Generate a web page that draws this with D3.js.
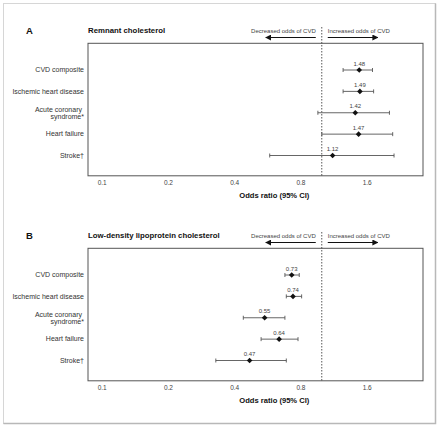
<!DOCTYPE html>
<html>
<head>
<meta charset="utf-8">
<script src="https://cdn.jsdelivr.net/npm/d3@7"></script>
<style>
  body { margin: 0; background: #fff; }
  svg { display: block; font-family: "Liberation Sans", Arial, sans-serif; }
</style>
</head>
<body>
<svg id="chart" width="440" height="428"></svg>
<script>
// outcome rows, same for both panels
const outcomes = [
  "CVD composite",
  "Ischemic heart disease",
  "Acute coronary syndrome*",
  "Heart failure",
  "Stroke\u2020"
];

// remnant cholesterol: odds ratio + 95% CI
const remnantOR = [1.48, 1.49, 1.42, 1.47, 1.12];
const remnantLow = [1.25, 1.25, 0.96, 1.0, 0.58];
const remnantHigh = [1.7, 1.72, 2.03, 2.1, 2.13];

// LDL cholesterol
const ldlOR = [0.73, 0.74, 0.55, 0.64, 0.47];
const ldlLow = [0.68, 0.69, 0.44, 0.53, 0.33];
const ldlHigh = [0.79, 0.81, 0.68, 0.78, 0.69];

const tickValues = [0.1, 0.2, 0.4, 0.8, 1.6];
const panels = [
  { letter: "A", title: "Remnant cholesterol", or: remnantOR, low: remnantLow, high: remnantHigh },
  { letter: "B", title: "Low-density lipoprotein cholesterol", or: ldlOR, low: ldlLow, high: ldlHigh }
];

const svg = d3.select("#chart");
const ink = "#2a2a2a";

// outer frame
svg.append("rect")
  .attr("x", 3.5).attr("y", 3.5).attr("width", 432).attr("height", 420)
  .attr("fill", "none").attr("stroke", "#d6d6d6");
svg.append("path")
  .attr("d", "M435.5,3.5V423.5H3.5")
  .attr("fill", "none").attr("stroke", "#b8b8b8").attr("stroke-width", 1.5);

svg.append("defs").append("marker")
  .attr("id", "arrow")
  .attr("viewBox", "0 0 10 10")
  .attr("refX", 9).attr("refY", 5)
  .attr("markerWidth", 6).attr("markerHeight", 6)
  .attr("markerUnits", "userSpaceOnUse")
  .attr("orient", "auto")
  .append("path").attr("d", "M0,0L10,5L0,10Z").attr("fill", "#111");

const box = { left: 88, right: 423, top: 43.3, height: 132.5 };
const x = d3.scaleLog().base(2).domain([0.1, 1.6]).range([101.7, 366.7]);
const y = d3.scalePoint().domain(outcomes).range([26.7, 112.2]);
const refX = x(1);

const diamond = d3.symbol().type(d3.symbolDiamond2 || d3.symbolSquare).size(20)();

function drawPanel(g, p) {
  // header
  g.append("text").attr("x", 26).attr("y", 34)
    .attr("font-size", 9.5).attr("font-weight", "bold").attr("fill", "#111")
    .text(p.letter);
  g.append("text").attr("x", box.left).attr("y", 33)
    .attr("font-size", 7.8).attr("font-weight", "bold").attr("fill", "#111")
    .text(p.title);

  g.append("text").attr("x", refX - 6).attr("y", 33)
    .attr("text-anchor", "end").attr("font-size", 6).attr("fill", "#444")
    .text("Decreased odds of CVD");
  g.append("text").attr("x", refX + 6).attr("y", 33)
    .attr("font-size", 6).attr("fill", "#444")
    .text("Increased odds of CVD");
  g.append("line")
    .attr("x1", refX - 6).attr("x2", refX - 56).attr("y1", 37.5).attr("y2", 37.5)
    .attr("stroke", "#111").attr("stroke-width", 1).attr("marker-end", "url(#arrow)");
  g.append("line")
    .attr("x1", refX + 6).attr("x2", refX + 56).attr("y1", 37.5).attr("y2", 37.5)
    .attr("stroke", "#111").attr("stroke-width", 1).attr("marker-end", "url(#arrow)");

  // plot box
  g.append("rect")
    .attr("x", box.left).attr("y", box.top)
    .attr("width", box.right - box.left).attr("height", box.height)
    .attr("fill", "none").attr("stroke", "#555").attr("stroke-width", 1);

  // reference line at OR = 1
  g.append("line")
    .attr("x1", refX).attr("x2", refX).attr("y1", 27).attr("y2", box.top + box.height)
    .attr("stroke", "#444").attr("stroke-width", 0.9).attr("stroke-dasharray", "1.5,1.5");

  // x axis labels (no tick marks)
  const axis = g.append("g")
    .attr("transform", `translate(0,${box.top + box.height})`)
    .call(d3.axisBottom(x).tickValues(tickValues).tickSize(0).tickPadding(5)
      .tickFormat(d3.format(".1f")));
  axis.select(".domain").remove();
  axis.selectAll("text")
    .attr("font-size", 6.5).attr("fill", "#444").attr("font-family", "Liberation Sans, Arial, sans-serif");

  g.append("text")
    .attr("x", (x(0.4) + x(0.8)) / 2 + 7).attr("y", box.top + box.height + 22)
    .attr("text-anchor", "middle").attr("font-size", 7.6).attr("font-weight", "bold").attr("fill", "#111")
    .text("Odds ratio (95% CI)");

  // row labels
  const rows = g.append("g").attr("transform", `translate(0,${box.top})`);
  outcomes.forEach((name, i) => {
    const t = rows.append("text")
      .attr("x", 84).attr("y", y(name) + 2.3)
      .attr("text-anchor", "end").attr("font-size", 7).attr("fill", "#333");
    if (name.startsWith("Acute")) {
      t.append("tspan").attr("x", 82).attr("dy", -3.5).text("Acute coronary");
      t.append("tspan").attr("x", 84).attr("dy", 7.8).text("syndrome*");
    } else {
      t.text(name);
    }

    const row = rows.append("g").attr("transform", `translate(0,${y(name)})`);
    row.append("line")
      .attr("x1", x(p.low[i])).attr("x2", x(p.high[i]))
      .attr("stroke", "#555").attr("stroke-width", 0.9);
    [p.low[i], p.high[i]].forEach(v => {
      row.append("line")
        .attr("x1", x(v)).attr("x2", x(v)).attr("y1", -2).attr("y2", 2)
        .attr("stroke", "#555").attr("stroke-width", 0.9);
    });
    row.append("path")
      .attr("d", diamond)
      .attr("transform", `translate(${x(p.or[i])},0)`)
      .attr("fill", "#111");
    row.append("text")
      .attr("x", x(p.or[i])).attr("y", -4.3)
      .attr("text-anchor", "middle").attr("font-size", 6).attr("fill", "#444")
      .text(d3.format(".2f")(p.or[i]));
  });
}

panels.forEach((p, i) => {
  svg.append("g").attr("transform", `translate(0,${i * 205})`).call(drawPanel, p);
});
</script>
</body>
</html>
